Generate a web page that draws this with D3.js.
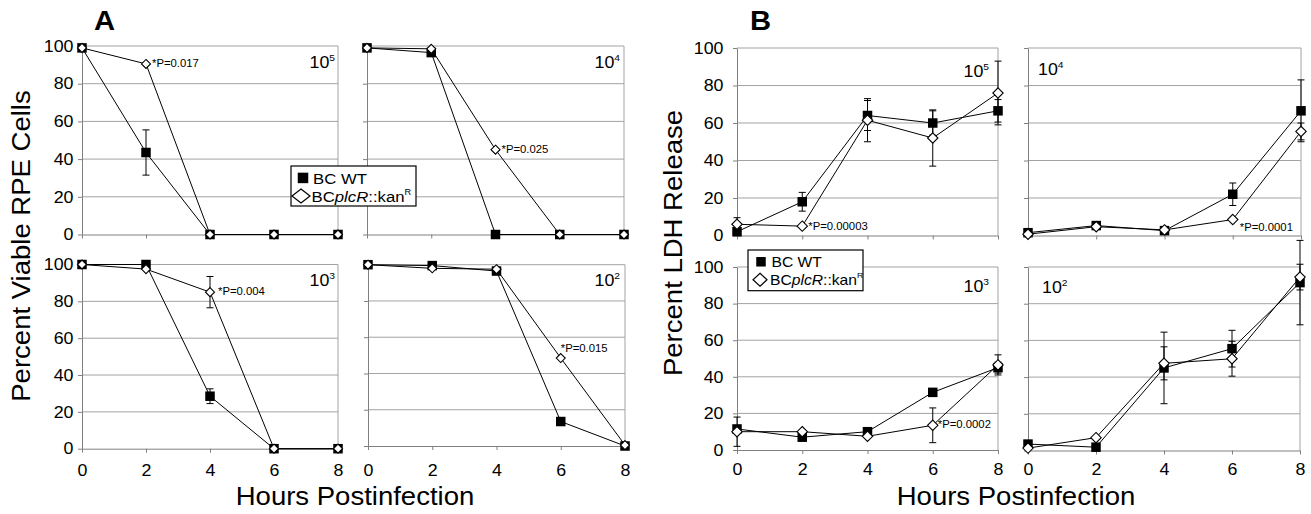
<!DOCTYPE html>
<html>
<head>
<meta charset="utf-8">
<script src="https://cdnjs.cloudflare.com/ajax/libs/d3/7.8.5/d3.min.js"></script>
<style>
  body { margin: 0; background: #fff; }
  svg { display: block; }
  text { font-family: Arial, "Liberation Sans", sans-serif; fill: #000; }
</style>
</head>
<body>
<script>
var hours = [0, 2, 4, 6, 8],
    yTicks = [0, 20, 40, 60, 80, 100];

// A: percent viable RPE cells, per inoculum (10^5 .. 10^2)
var viableWT5 = [99, 43.5, 0, 0, 0],       viableWT5Err = [0, 12, 0, 0, 0],
    viableMut5 = [99, 90.5, 0, 0, 0],      viableMut5Err = [0, 0, 0, 0, 0];
var viableWT4 = [99, 96.5, 0, 0, 0],       viableWT4Err = [0, 0, 0, 0, 0],
    viableMut4 = [99, 98.5, 45, 0, 0],     viableMut4Err = [0, 0, 0, 0, 0];
var viableWT3 = [100, 100, 28.5, 0, 0],    viableWT3Err = [0, 0, 4, 0, 0],
    viableMut3 = [100, 97.5, 85, 0, 0],    viableMut3Err = [0, 0, 8.5, 0, 0];
var viableWT2 = [100, 99.5, 96.5, 13.5, 0], viableWT2Err = [0, 0, 0, 0, 0],
    viableMut2 = [100, 98, 97.5, 48.5, 0.5], viableMut2Err = [0, 0, 0, 0, 0];

// B: percent LDH release
var ldhWT5 = [2, 18, 64, 60, 66.5],        ldhWT5Err = [1.5, 5, 8, 6.5, 6],
    ldhMut5 = [6, 5, 61.5, 52, 76],        ldhMut5Err = [3.5, 0, 11.5, 15, 17];
var ldhWT4 = [1.5, 5.3, 2.6, 22, 66.5],    ldhWT4Err = [0, 0, 0, 6, 16.5],
    ldhMut4 = [0.7, 4.7, 3, 8.5, 55.5],    ldhMut4Err = [0, 0, 0, 0, 4.5];
var ldhWT3 = [11.5, 7, 10, 31.5, 45],      ldhWT3Err = [0, 0, 0, 2, 3],
    ldhMut3 = [10, 10, 7.5, 13.5, 46.5],   ldhMut3Err = [8, 0, 0, 9.5, 5.5];
var ldhWT2 = [3.5, 1.8, 45, 55.5, 91.5],   ldhWT2Err = [0, 0, 19.5, 10, 23],
    ldhMut2 = [1.3, 7, 47.5, 50, 94.5],    ldhMut2Err = [0, 0, 9, 9.5, 7];

var exponents = [5, 4, 3, 2];
var pNotes = ["*P=0.017", "*P=0.025", "*P=0.004", "*P=0.015",
              "*P=0.00003", "*P=0.0001", "*P=0.0002"];

var SX = 1.08; // glyphs in the figure are a bit wider than Arial

var svg = d3.select("body").append("svg")
    .attr("width", 1311)
    .attr("height", 514);

// text helper: stretched horizontally along the text direction
function label(parent, x, y, size, anchor, rot) {
  return parent.append("text")
      .attr("transform", "translate(" + x + "," + y + ") rotate(" + (rot || 0) + ") scale(" + SX + ",1)")
      .attr("font-size", size)
      .attr("text-anchor", anchor || "start");
}

// layout of the eight small charts
var panels = [
  {x0: 82, x1: 338, y0: 46, y1: 234.5, wt: viableWT5, wtErr: viableWT5Err, mut: viableMut5, mutErr: viableMut5Err,
   exp: exponents[0], labX: 335, labY: 68, labAnchor: "end", yLab: true, xLab: false, pad: 4.5, xpad: 12,
   note: pNotes[0], noteAt: 1, ndx: 6, ndy: 3.5, dr: 4.5},
  {x0: 367, x1: 624, y0: 46, y1: 234.5, wt: viableWT4, wtErr: viableWT4Err, mut: viableMut4, mutErr: viableMut4Err,
   exp: exponents[1], labX: 620, labY: 68, labAnchor: "end", yLab: false, xLab: false, pad: 4.5, xpad: 12,
   note: pNotes[1], noteAt: 2, ndx: 6, ndy: 3, dr: 4.5},
  {x0: 82, x1: 338, y0: 264.5, y1: 448.7, wt: viableWT3, wtErr: viableWT3Err, mut: viableMut3, mutErr: viableMut3Err,
   exp: exponents[2], labX: 335, labY: 286, labAnchor: "end", yLab: true, xLab: true, pad: 4.5, xpad: 12,
   note: pNotes[2], noteAt: 2, ndx: 8, ndy: 3, dr: 4.5},
  {x0: 368, x1: 625, y0: 264.7, y1: 446, wt: viableWT2, wtErr: viableWT2Err, mut: viableMut2, mutErr: viableMut2Err,
   exp: exponents[3], labX: 620, labY: 286, labAnchor: "end", yLab: false, xLab: true, pad: 4.5, xpad: 14.5,
   note: pNotes[3], noteAt: 3, ndx: 0, ndy: -6, dr: 4.5},
  {x0: 737, x1: 998, y0: 48, y1: 235.5, wt: ldhWT5, wtErr: ldhWT5Err, mut: ldhMut5, mutErr: ldhMut5Err,
   exp: exponents[0], labX: 989, labY: 77, labAnchor: "end", yLab: true, xLab: false, pad: 9.5, xpad: 9,
   note: pNotes[4], noteAt: 1, ndx: 6, ndy: 4, dr: 5.2},
  {x0: 1028, x1: 1301, y0: 48, y1: 235.5, wt: ldhWT4, wtErr: ldhWT4Err, mut: ldhMut4, mutErr: ldhMut4Err,
   exp: exponents[1], labX: 1038, labY: 75, labAnchor: "start", yLab: false, xLab: false, pad: 9.5, xpad: 9,
   note: pNotes[5], noteAt: 3, ndx: 7, ndy: 11.5, dr: 5.2},
  {x0: 737, x1: 998, y0: 267, y1: 450, wt: ldhWT3, wtErr: ldhWT3Err, mut: ldhMut3, mutErr: ldhMut3Err,
   exp: exponents[2], labX: 989, labY: 292, labAnchor: "end", yLab: true, xLab: true, pad: 9.5, xpad: 9,
   note: pNotes[6], noteAt: 3, ndx: 5, ndy: 3, dr: 5.2},
  {x0: 1028, x1: 1300, y0: 267, y1: 450.5, wt: ldhWT2, wtErr: ldhWT2Err, mut: ldhMut2, mutErr: ldhMut2Err,
   exp: exponents[3], labX: 1042, labY: 293, labAnchor: "start", yLab: false, xLab: true, pad: 9.5, xpad: 9,
   note: null, dr: 5.2}
];

function diamondPath(r) {
  return "M0," + (-r) + "L" + r + ",0L0," + r + "L" + (-r) + ",0Z";
}

panels.forEach(function(p) {
  var x = d3.scaleLinear().domain([0, 8]).range([p.x0, p.x1]),
      y = d3.scaleLinear().domain([0, 100]).range([p.y1, p.y0]);
  var g = svg.append("g");

  // gridlines + right border
  g.selectAll(".grid")
      .data(yTicks.filter(function(v) { return v > 0; }))
    .enter().append("line")
      .attr("x1", p.x0).attr("x2", p.x1)
      .attr("y1", function(d) { return y(d); })
      .attr("y2", function(d) { return y(d); })
      .attr("stroke", "#a3a3a3");
  g.append("line")
      .attr("x1", p.x1).attr("x2", p.x1)
      .attr("y1", p.y0).attr("y2", p.y1)
      .attr("stroke", "#a3a3a3");

  // y axis
  var ya = g.append("g")
      .attr("transform", "translate(" + p.x0 + ",0)")
      .call(d3.axisLeft(y).tickValues(yTicks).tickSize(4).tickSizeOuter(0)
            .tickPadding(p.pad).tickFormat(p.yLab ? d3.format("d") : function() { return ""; }));
  // x axis
  var xa = g.append("g")
      .attr("transform", "translate(0," + p.y1 + ")")
      .call(d3.axisBottom(x).tickValues(hours).tickSize(4).tickSizeOuter(0)
            .tickPadding(p.xpad).tickFormat(p.xLab ? d3.format("d") : function() { return ""; }));

  [ya, xa].forEach(function(a) {
    a.attr("font-family", null).attr("font-size", null);
    a.select(".domain").attr("stroke", "#808080");
    a.selectAll(".tick line").attr("stroke", "#808080");
    a.selectAll(".tick text")
        .attr("font-size", 16.5)
        .attr("fill", "#000")
        .attr("transform", "scale(" + SX + ",1)");
  });
  ya.selectAll(".tick text").attr("x", -(4 + p.pad) / SX);

  // lines
  var line = d3.line()
      .x(function(d, i) { return x(hours[i]); })
      .y(function(d) { return y(d); });
  [p.wt, p.mut].forEach(function(s) {
    g.append("path").datum(s)
        .attr("d", line)
        .attr("fill", "none")
        .attr("stroke", "#000")
        .attr("stroke-width", 1);
  });

  // error bars
  [[p.wt, p.wtErr], [p.mut, p.mutErr]].forEach(function(se) {
    var vals = se[0], errs = se[1];
    hours.forEach(function(h, i) {
      if (!errs[i]) return;
      var cx = x(h), ylo = y(vals[i] - errs[i]), yhi = y(vals[i] + errs[i]);
      g.append("line").attr("x1", cx).attr("x2", cx).attr("y1", ylo).attr("y2", yhi)
          .attr("stroke", "#000");
      [ylo, yhi].forEach(function(yy) {
        g.append("line").attr("x1", cx - 3.5).attr("x2", cx + 3.5).attr("y1", yy).attr("y2", yy)
            .attr("stroke", "#000");
      });
    });
  });

  // markers: squares then diamonds on top
  g.selectAll(".sq")
      .data(p.wt)
    .enter().append("rect")
      .attr("x", function(d, i) { return x(hours[i]) - 4.75; })
      .attr("y", function(d) { return y(d) - 4.75; })
      .attr("width", 9.5).attr("height", 9.5)
      .attr("fill", "#000");
  g.selectAll(".dm")
      .data(p.mut)
    .enter().append("path")
      .attr("d", diamondPath(p.dr))
      .attr("transform", function(d, i) { return "translate(" + x(hours[i]) + "," + y(d) + ")"; })
      .attr("fill", "#fff")
      .attr("stroke", "#000")
      .attr("stroke-width", 1.1);

  // P value note
  if (p.note) {
    label(g, x(hours[p.noteAt]) + p.ndx, y(p.mut[p.noteAt]) + p.ndy, 10.5, "start").text(p.note);
  }

  // inoculum label
  var t = label(g, p.labX, p.labY, 16.5, p.labAnchor);
  t.append("tspan").text("10");
  t.append("tspan").attr("dy", -7).attr("font-size", 9.5).text(p.exp);
});

// legends
function legend(x0, y0, w, h, fs, sq, dr, tx, row1, row2) {
  var g = svg.append("g");
  g.append("rect").attr("x", x0).attr("y", y0).attr("width", w).attr("height", h)
      .attr("fill", "#fff").attr("stroke", "#000").attr("stroke-width", 1.2);
  g.append("rect").attr("x", x0 + sq[0] - sq[2] / 2).attr("y", y0 + row1 - fs * 0.36 - sq[2] / 2)
      .attr("width", sq[2]).attr("height", sq[2]).attr("fill", "#000");
  g.append("path").attr("d", "M0," + (-dr[1]) + "L" + dr[0] + ",0L0," + dr[1] + "L" + (-dr[0]) + ",0Z")
      .attr("transform", "translate(" + (x0 + dr[2]) + "," + (y0 + row2 - fs * 0.36) + ")")
      .attr("fill", "#fff").attr("stroke", "#000").attr("stroke-width", 1.2);
  label(g, x0 + tx, y0 + row1, fs, "start").text("BC WT");
  var t = label(g, x0 + tx - 1.5, y0 + row2, fs, "start");
  t.append("tspan").text("BC");
  t.append("tspan").attr("font-style", "italic").text("plcR");
  t.append("tspan").text("::kan");
  t.append("tspan").attr("dy", -7).attr("font-size", fs * 0.55).text("R");
}
legend(291, 166, 125, 40, 15.5, [12, 0, 10.5], [9, 7, 10], 22, 17.5, 35.5);
legend(748, 250, 115, 40.7, 14.5, [13, 0, 9.5], [7, 6.5, 12], 23.5, 17, 35);

// panel letters
label(svg, 94, 30, 27, "start").attr("font-weight", "bold").text("A");
label(svg, 750, 30, 27, "start").attr("font-weight", "bold").text("B");

// axis titles
label(svg, 355, 505, 25.5, "middle").text("Hours Postinfection");
label(svg, 1016, 505, 25.5, "middle").text("Hours Postinfection");
label(svg, 30, 246, 25.5, "middle", -90).text("Percent Viable RPE Cells");
label(svg, 682, 243, 25.5, "middle", -90).text("Percent LDH Release");
</script>
</body>
</html>
